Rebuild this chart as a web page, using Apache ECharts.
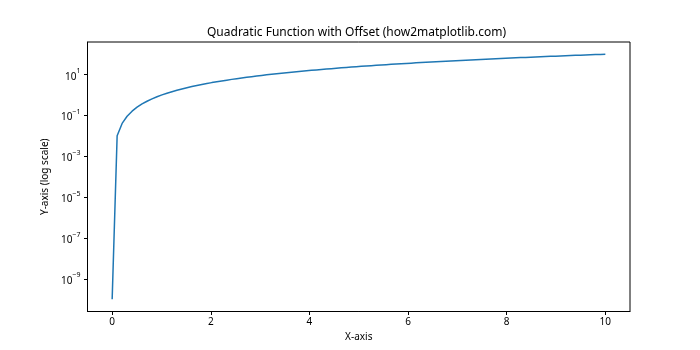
<!DOCTYPE html>
<html>
<head>
<meta charset="utf-8">
<script src="https://cdn.jsdelivr.net/npm/echarts@6/dist/echarts.min.js"></script>
<style>html,body{margin:0;padding:0;background:#fff;}#c{width:700px;height:350px;}</style>
</head>
<body>
<div id="c"></div>
<script>
const xValues = [0, 0.1010, 0.2020, 0.3030, 0.4040, 0.5051, 0.6061, 0.7071, 0.8081, 0.9091,
  1.0101, 1.1111, 1.2121, 1.3131, 1.4141, 1.5152, 1.6162, 1.7172, 1.8182, 1.9192,
  2.0202, 2.1212, 2.2222, 2.3232, 2.4242, 2.5253, 2.6263, 2.7273, 2.8283, 2.9293,
  3.0303, 3.1313, 3.2323, 3.3333, 3.4343, 3.5354, 3.6364, 3.7374, 3.8384, 3.9394,
  4.0404, 4.1414, 4.2424, 4.3434, 4.4444, 4.5455, 4.6465, 4.7475, 4.8485, 4.9495,
  5.0505, 5.1515, 5.2525, 5.3535, 5.4545, 5.5556, 5.6566, 5.7576, 5.8586, 5.9596,
  6.0606, 6.1616, 6.2626, 6.3636, 6.4646, 6.5657, 6.6667, 6.7677, 6.8687, 6.9697,
  7.0707, 7.1717, 7.2727, 7.3737, 7.4747, 7.5758, 7.6768, 7.7778, 7.8788, 7.9798,
  8.0808, 8.1818, 8.2828, 8.3838, 8.4848, 8.5859, 8.6869, 8.7879, 8.8889, 8.9899,
  9.0909, 9.1919, 9.2929, 9.3939, 9.4949, 9.5960, 9.6970, 9.7980, 9.8990, 10.0];
const yValues = [1e-10, 0.010203, 0.040812, 0.091827, 0.16325, 0.25508, 0.36731, 0.49995, 0.65299, 0.82645,
  1.0203, 1.2346, 1.4692, 1.7243, 1.9998, 2.2957, 2.6120, 2.9487, 3.3058, 3.6833,
  4.0812, 4.4995, 4.9383, 5.3974, 5.8770, 6.3769, 6.8973, 7.4380, 7.9992, 8.5808,
  9.1827, 9.8051, 10.448, 11.111, 11.794, 12.499, 13.223, 13.968, 14.733, 15.519,
  16.325, 17.151, 17.998, 18.865, 19.753, 20.661, 21.590, 22.538, 23.508, 24.498,
  25.508, 26.538, 27.589, 28.660, 29.752, 30.864, 31.997, 33.150, 34.323, 35.517,
  36.731, 37.965, 39.220, 40.496, 41.792, 43.108, 44.444, 45.801, 47.179, 48.577,
  49.995, 51.434, 52.893, 54.372, 55.872, 57.392, 58.933, 60.494, 62.075, 63.677,
  65.299, 66.942, 68.605, 70.289, 71.993, 73.717, 75.462, 77.227, 79.012, 80.818,
  82.645, 84.491, 86.359, 88.246, 90.154, 92.082, 94.031, 96.000, 97.990, 100.0];
const xTicks = [0, 2, 4, 6, 8, 10];
const yTicks = [1e-9, 1e-7, 1e-5, 1e-3, 1e-1, 1e1];
const titleText = 'Quadratic Function with Offset (how2matplotlib.com)';
const xName = 'X-axis';
const yName = 'Y-axis (log scale)';

const FONT = 'Noto Sans';
const chart = echarts.init(document.getElementById('c'), null, {renderer: 'canvas'});
chart.setOption({
  animation: false,
  backgroundColor: '#fff',
  title: {
    text: titleText, left: 351.5, top: 22, textAlign: 'center',
    textStyle: {fontFamily: FONT, fontSize: 12, fontWeight: 'normal', color: '#000'}
  },
  grid: {left: 87.5, right: 70, top: 42, bottom: 38.5, containLabel: false,
    show: true, borderColor: '#000', borderWidth: 1, backgroundColor: 'transparent'},
  xAxis: {
    type: 'value', min: -0.5, max: 10.5,
    name: xName, nameLocation: 'middle', nameGap: 20,
    nameTextStyle: {fontFamily: FONT, fontSize: 10, color: '#000'},
    axisLine: {show: true, onZero: false, lineStyle: {color: '#000', width: 1}},
    axisTick: {show: true, inside: false, length: 3.5, lineStyle: {color: '#000', width: 1}, customValues: xTicks},
    axisLabel: {fontFamily: FONT, fontSize: 10, color: '#000', margin: 6, customValues: xTicks,
      formatter: v => String(Math.round(v))},
    splitLine: {show: false}
  },
  yAxis: {
    type: 'log', logBase: 10, min: Math.pow(10, -10.6), max: Math.pow(10, 2.6),
    name: yName, nameLocation: 'middle', nameGap: 36,
    nameTextStyle: {fontFamily: FONT, fontSize: 10, color: '#000'},
    axisLine: {show: true, onZero: false, lineStyle: {color: '#000', width: 1}},
    axisTick: {show: true, inside: false, length: 3.5, lineStyle: {color: '#000', width: 1}, customValues: yTicks},
    axisLabel: {fontFamily: FONT, fontSize: 10, color: '#000', margin: 7, customValues: yTicks,
      formatter: v => {
        const e = Math.round(Math.log10(v));
        return '{b|10}{s|' + (e < 0 ? '\u2212' + (-e) : e) + '}';
      },
      rich: {
        b: {fontFamily: FONT, fontSize: 10, color: '#000', lineHeight: 14, verticalAlign: 'bottom'},
        s: {fontFamily: FONT, fontSize: 7, color: '#000', lineHeight: 9, verticalAlign: 'top'}
      }
    },
    splitLine: {show: false}
  },
  series: [{
    type: 'line',
    data: xValues.map((x, i) => [x, yValues[i]]),
    showSymbol: false, symbol: 'none',
    lineStyle: {color: '#1f77b4', width: 1.5},
    itemStyle: {color: '#1f77b4'}
  }]
});
</script>
</body>
</html>
